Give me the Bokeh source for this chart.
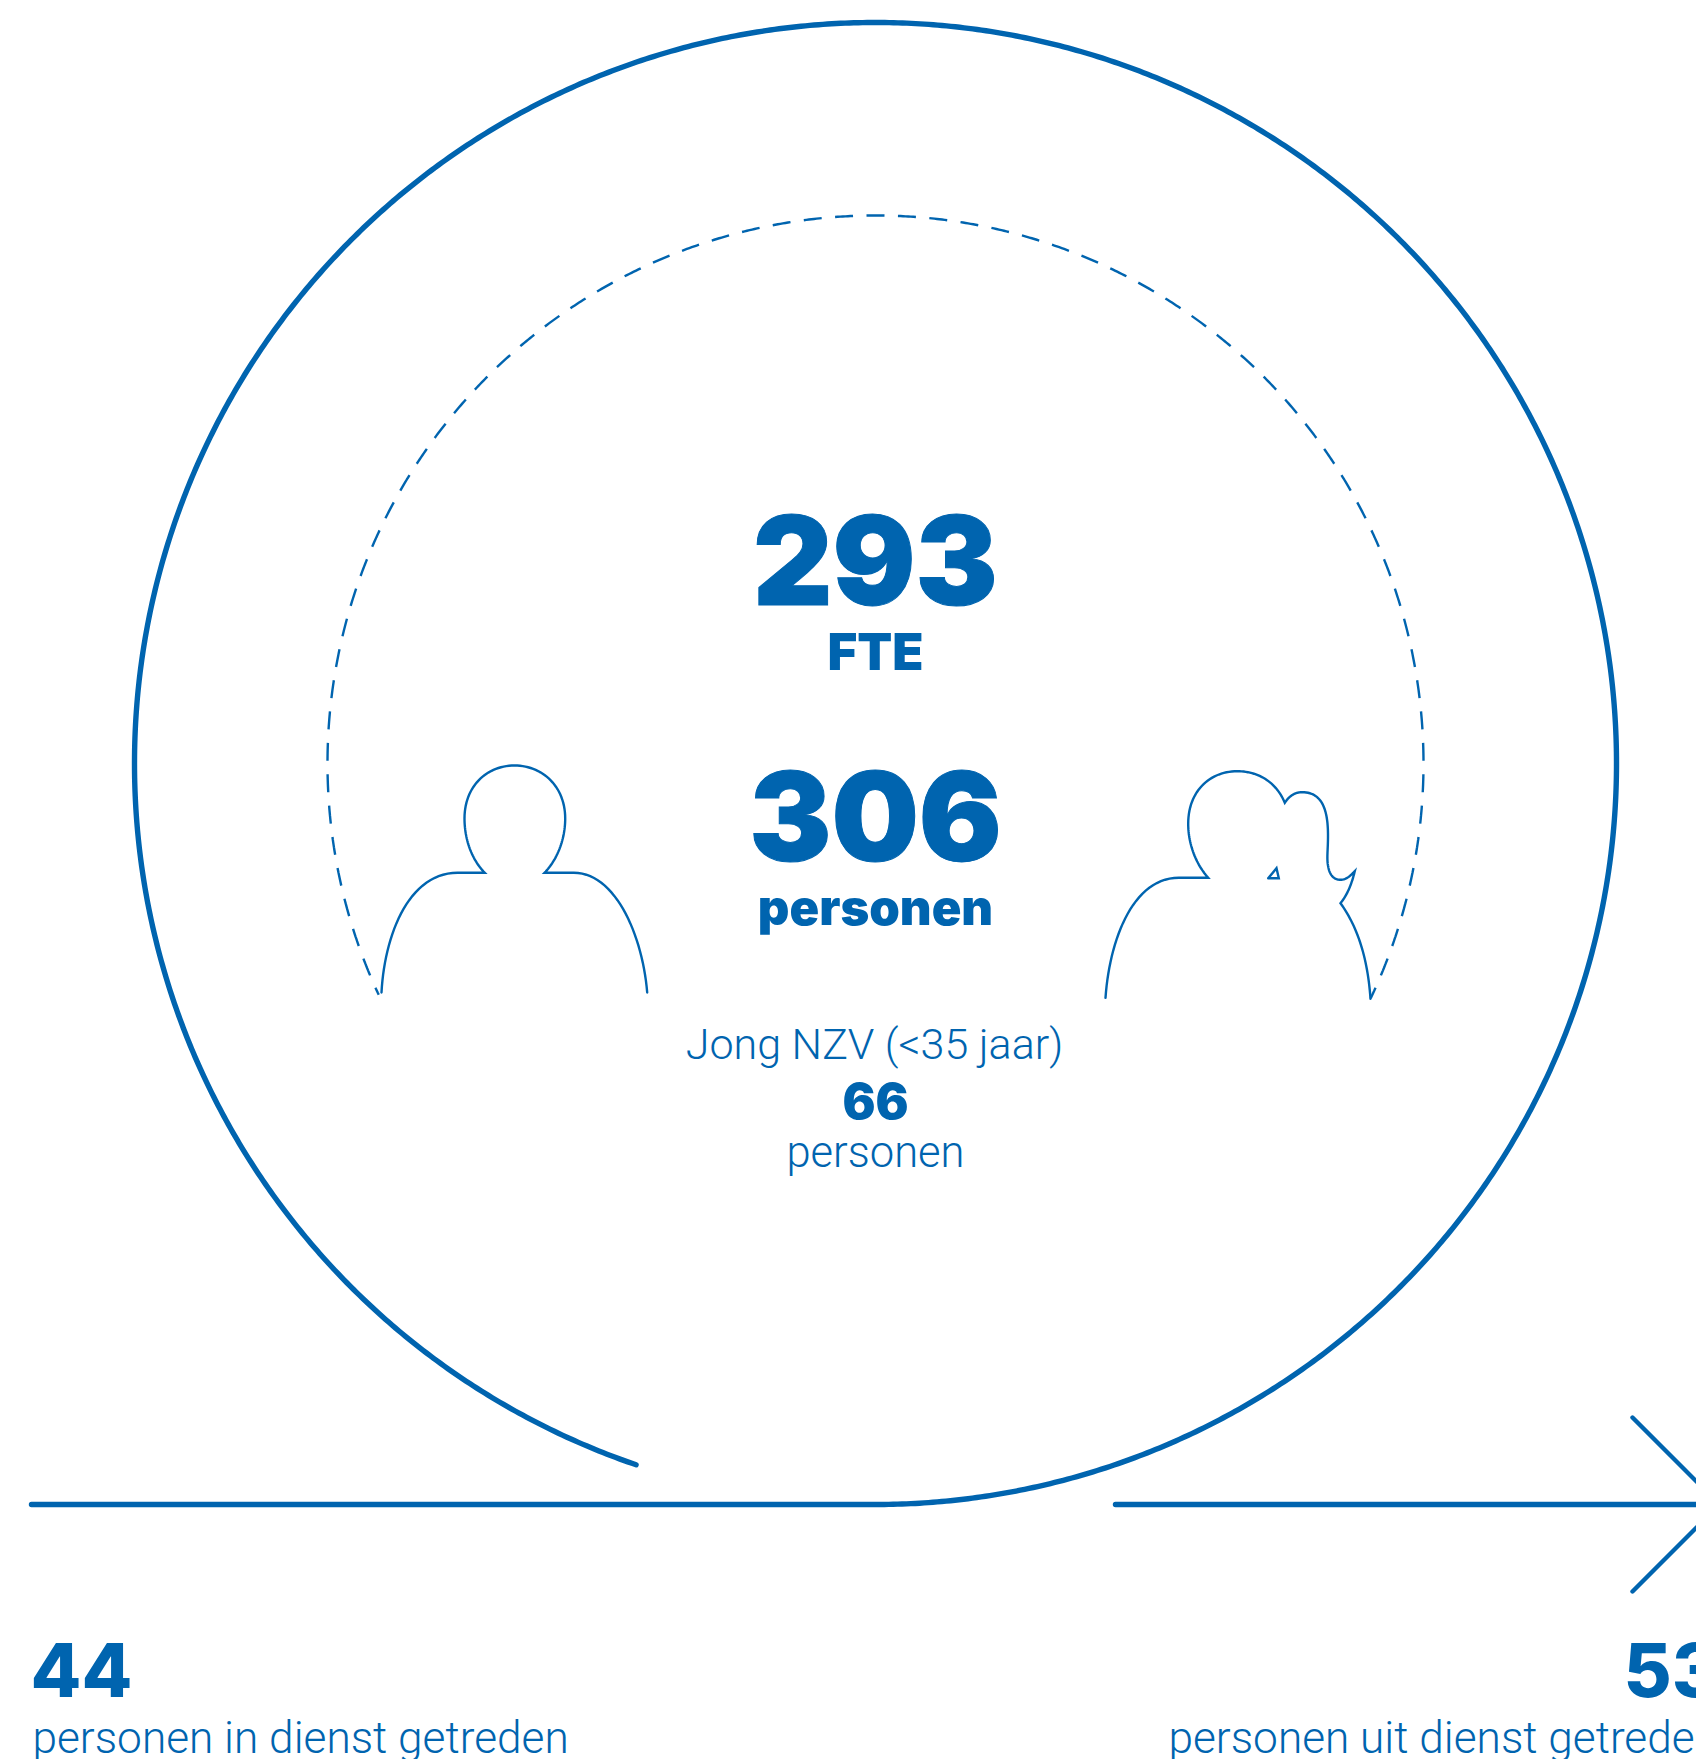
import numpy as np
from bokeh.plotting import figure
from bokeh.models import Range1d
from bokeh.core.properties import value
from bokeh.embed import file_html
from bokeh.resources import INLINE

BLUE = "#0064AF"
BLACK = "Inter Black"
HEAVY = "Inter ExtraBold"
LIGHT = "Roboto Light"

fte_value = "293"
people_value = "306"
young_value = "66"
joined_value = "44"
left_value = "53"
# Texts: (text, x, baseline y, size px, anchor, font, outlined)
texts = [
    (fte_value, 875, 604, 123, "center", BLACK, True),
    ("FTE", 875, 669, 51, "center", BLACK, False),
    (people_value, 875, 860, 123, "center", BLACK, True),
    ("personen", 875, 925, 49, "center", BLACK, False),
    ("Jong NZV (<35 jaar)", 874, 1059, 43, "center", LIGHT, False),
    (young_value, 875, 1118, 49, "center", BLACK, False),
    ("personen", 875, 1168, 43.5, "center", LIGHT, False),
    (joined_value, 30, 1696, 74, "left", HEAVY, False),
    ("personen in dienst getreden", 32, 1753, 44.2, "left", LIGHT, False),
    (left_value, 1623, 1696, 74, "left", HEAVY, False),
    ("personen uit dienst getreden", 1168, 1753, 44.2, "left", LIGHT, False),
]
BASE_SHIFT = 0.36

cx, cy = 875, 763
outer_r, inner_r = 741, 548
outer_end = (636, 1463)
inner_start = (379, 994)
inner_end = (1371, 998)
dash_len, dash_period = 18, 31.45

man = [(381, 992),
       ((384, 935), (408, 872.3), (457, 872.3)),
       (None, None, (484.3, 872.3)),
       ((472, 860), (464, 840), (464, 818)),
       ((464, 785), (487, 765), (514, 765)),
       ((541, 765), (564.7, 785), (564.7, 818)),
       ((564.7, 840), (556, 860), (544, 872.3)),
       (None, None, (573.3, 872.3)),
       ((615, 872.3), (642, 935), (646.7, 992))]
woman = [(1105, 997.3),
         ((1109, 940), (1132, 877.3), (1178.3, 877.3)),
         (None, None, (1207.7, 877.3)),
         ((1195, 863), (1187.7, 843), (1187.7, 823.3)),
         ((1187.7, 790), (1210, 770.7), (1236.7, 770.7)),
         ((1258, 770.7), (1276, 782), (1284.3, 802.3)),
         ((1289, 795), (1295, 791.7), (1301.7, 791.7)),
         ((1322, 791.7), (1327.5, 810), (1327.5, 835)),
         ((1327.5, 850), (1326, 858), (1327.7, 866)),
         ((1329, 874), (1333, 879.3), (1340, 879.3)),
         ((1346, 879.3), (1350, 875), (1354.3, 870.7)),
         ((1351, 884), (1347, 894), (1340, 902.7)),
         ((1356, 925), (1367, 955), (1370, 998.3))]
woman_mark = [(1267.7, 877.7), (None, None, (1278.3, 877.7)),
              (None, None, (1276, 867.7)), (None, None, (1267.7, 877.7))]


def trace(path):
    xs, ys = [path[0][0]], [path[0][1]]
    p0 = np.array(path[0], float)
    for c1, c2, end in path[1:]:
        end = np.array(end, float)
        if c1 is None:
            xs.append(end[0]); ys.append(end[1])
        else:
            c1a, c2a = np.array(c1, float), np.array(c2, float)
            for t in np.linspace(0, 1, 30)[1:]:
                q = (1-t)**3*p0 + 3*(1-t)**2*t*c1a + 3*(1-t)*t**2*c2a + t**3*end
                xs.append(q[0]); ys.append(q[1])
        p0 = end
    return xs, ys


def ang(pt):
    return np.arctan2(pt[0]-cx, cy-pt[1])


p = figure(width=1696, height=1759, output_backend="svg", toolbar_location=None,
           x_range=Range1d(0, 1696), y_range=Range1d(1759, 0),
           x_axis_type=None, y_axis_type=None, min_border=0,
           outline_line_color=None, background_fill_color="white", border_fill_color="white")
p.grid.visible = False

# outer spiral: run-in along the bottom, then nearly a full turn
end_a = ang(outer_end) % (2*np.pi)
th = np.linspace(np.pi, end_a - 2*np.pi, 1000)
xs = (cx + outer_r*np.sin(th)).tolist()
ys = (cy - outer_r*np.cos(th)).tolist()
p.line([31] + xs, [cy + outer_r] + ys, line_color=BLUE, line_width=5.4, line_cap="round", line_join="round")

# dashed inner arc: dashes centred on the top of the circle
a0, a1 = ang(inner_start), ang(inner_end)
dxs, dys = [], []
half = dash_len / 2 / inner_r
step = dash_period / inner_r
for k in range(-60, 61):
    lo, hi = max(k*step - half, a0), min(k*step + half, a1)
    if hi > lo:
        t = np.linspace(lo, hi, 8)
        dxs.append((cx + inner_r*np.sin(t)).tolist())
        dys.append((cy - inner_r*np.cos(t)).tolist())
p.multi_line(dxs, dys, line_color=BLUE, line_width=2.4)

# arrow
p.line([1115, 1720], [cy + outer_r, cy + outer_r], line_color=BLUE, line_width=5.4, line_cap="round")
p.line([1632, 1719, 1632], [1417, 1504, 1591], line_color=BLUE, line_width=4.4, line_cap="round", line_join="miter")

for path in (man, woman, woman_mark):
    xs, ys = trace(path)
    p.line(xs, ys, line_color=BLUE, line_width=2.4, line_cap="round", line_join="miter")

for t, x, y, size, anchor, font, outlined in texts:
    kw = {"text_outline_color": BLUE} if outlined else {}
    p.text([x], [y - BASE_SHIFT*size], text=[t], text_font=value(font),
           text_font_size=f"{size}px", text_color=BLUE, text_align=anchor,
           text_baseline="alphabetic", **kw)

open("out.html", "w").write(file_html(p, INLINE))
